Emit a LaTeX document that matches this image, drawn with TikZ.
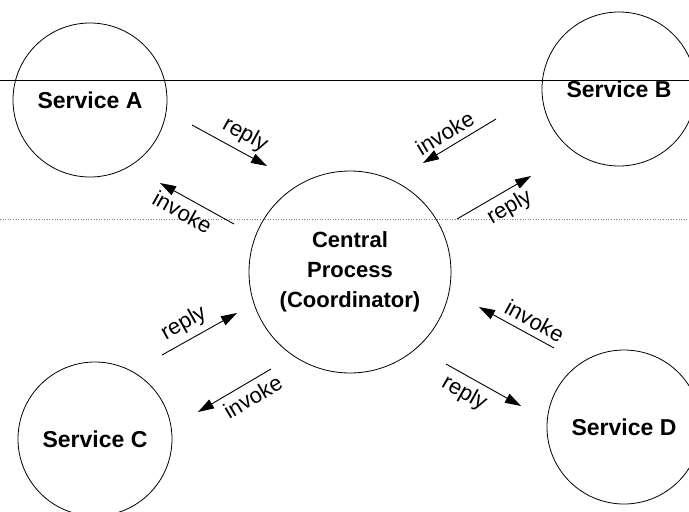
\documentclass[tikz,border=0pt]{standalone}
\usepackage{fontspec}
\setmainfont{Liberation Sans}
\usetikzlibrary{arrows.meta}

\tikzset{
  service/.style={circle, draw, line width=0.8pt, minimum size=154pt, inner sep=0pt,
    font=\fontsize{23}{26}\selectfont\bfseries},
  msg/.style={->, line width=0.9pt},
  lbl/.style={sloped, inner sep=6pt, font=\fontsize{22}{24}\selectfont}
}

\begin{document}
\begin{tikzpicture}[x=1pt, y=-1pt, >={Triangle[length=16pt,width=10pt]}]
  \useasboundingbox (0,0) rectangle (689,512);
  \clip (0,0) rectangle (689,512);

  % page lines
  \draw[line width=1pt] (0,80) -- (689,80);
  \draw[gray, dotted, line width=0.6pt] (0,219) -- (689,219);

  \node[service] (A) at (90,100) {Service A};
  \node[service] (B) at (619,89) {Service B};
  \node[service] (C) at (95,439) {Service C};
  \node[service] (D) at (624,427) {Service D};
  \node[service, minimum size=202pt, align=center,
        font=\fontsize{22}{30}\selectfont\bfseries] (P) at (350,272)
        {Central\\Process\\(Coordinator)};

  % message ends
  \coordinate (a1) at (192,125); \coordinate (a2) at (267,166);
  \coordinate (a3) at (234,224); \coordinate (a4) at (160,183);
  \coordinate (b1) at (496,119); \coordinate (b2) at (423,163);
  \coordinate (b3) at (457,219); \coordinate (b4) at (531,176);
  \coordinate (c1) at (162,355); \coordinate (c2) at (237,313);
  \coordinate (c3) at (271,369); \coordinate (c4) at (198,412);
  \coordinate (d1) at (554,348); \coordinate (d2) at (479,307);
  \coordinate (d3) at (446,364); \coordinate (d4) at (521,406);

  \path
  (a1) edge[msg] node[lbl, above, pos=0.6] {reply} (a2)
  (a3) edge[msg] node[lbl, below, pos=0.6] {invoke} (a4)
  (b1) edge[msg] node[lbl, above, pos=0.6] {invoke} (b2)
  (b3) edge[msg] node[lbl, below, pos=0.6] {reply} (b4)
  (c1) edge[msg] node[lbl, above, pos=0.4] {reply} (c2)
  (c3) edge[msg] node[lbl, below, pos=0.35] {invoke} (c4)
  (d1) edge[msg] node[lbl, above, pos=0.35] {invoke} (d2)
  (d3) edge[msg] node[lbl, below, pos=0.35] {reply} (d4);
\end{tikzpicture}
\end{document}
